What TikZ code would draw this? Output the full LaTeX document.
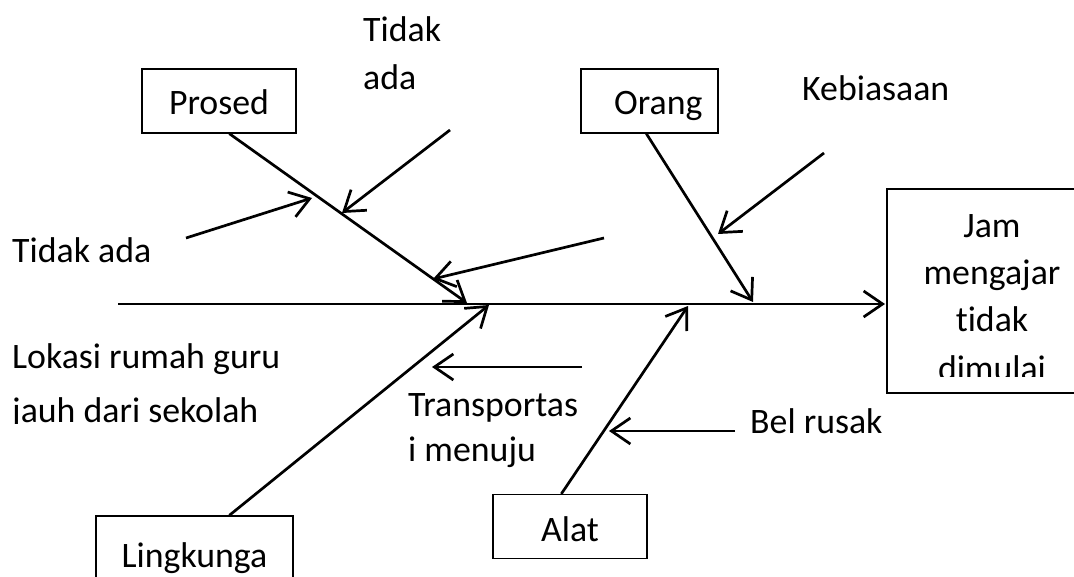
\documentclass[tikz,border=0pt]{standalone}
\usepackage{fontspec}
\setmainfont{Carlito}[Ligatures=NoCommon]
\usetikzlibrary{arrows.meta,calc}
\begin{document}
\begin{tikzpicture}[x=1pt,y=-1pt,
  bone/.style={line width=2.7pt,-{Straight Barb[length=19pt,width=26pt,line width=2.7pt]}},
  boxed/.style={draw,line width=1.3pt,inner sep=0pt},
  txt/.style={font=\fontsize{35.8}{47}\selectfont},
  lbl/.style={txt,anchor=base west,inner sep=0pt}]
\useasboundingbox (0,0) rectangle (1074,577);
% boxes
\node[boxed,minimum width=154pt,minimum height=64pt] (prosed) at (219,101) {};
\node[lbl,anchor=base] (prosedt) at (219,115) {Prosed};
\node[boxed,minimum width=137pt,minimum height=64pt] (orang) at (649.5,101) {};
\node[lbl] (orangt) at (614,115) {Orang};
\node[boxed,minimum width=154pt,minimum height=64pt] (alat) at (570,526.5) {};
\node[lbl,anchor=base] (alatt) at (570,541) {Alat};
\node[boxed,minimum width=197pt,minimum height=80pt] (ling) at (194.5,556) {};
\node[lbl,anchor=base] (lingt) at (194.5,567) {Lingkunga};
\node[boxed,minimum width=213pt,minimum height=204pt] (effect) at (993.5,291) {};
\begin{scope}
  \clip (887,189) rectangle (1100,377);
  \node[lbl,anchor=base] (e1) at (992,238) {Jam};
  \node[lbl,anchor=base] (e2) at (992,285) {mengajar};
  \node[lbl,anchor=base] (e3) at (992,332) {tidak};
  \node[lbl,anchor=base] (e4) at (992,381) {dimulai};
\end{scope}
% spine
\coordinate (tail) at (118,304);
\coordinate (head) at (885,304);
\draw[bone] (tail) -- (head);
% main bones
\coordinate (pe) at (467,303);
\coordinate (oe) at (753,302);
\coordinate (le) at (489,305);
\coordinate (ae) at (688,306);
\draw[bone] ($(prosed.south west)+(88,0)$) -- (pe);
\draw[bone] ($(orang.south west)+(66,0)$) -- (oe);
\draw[bone] ($(ling.north west)+(134,0)$) -- (le);
\draw[bone] ($(alat.north west)+(69,0)$) -- (ae);
% sub arrows
\coordinate (s1a) at (186,238); \coordinate (s1b) at (312,198);
\coordinate (s2a) at (450,130); \coordinate (s2b) at (342,213);
\coordinate (s3a) at (604,238); \coordinate (s3b) at (433,279);
\coordinate (s4a) at (824,153); \coordinate (s4b) at (718,234);
\coordinate (s5a) at (582,367); \coordinate (s5b) at (432,367);
\coordinate (s6a) at (735,431); \coordinate (s6b) at (609,431);
\draw[bone] (s1a) -- (s1b);
\draw[bone] (s2a) -- (s2b);
\draw[bone] (s3a) -- (s3b);
\draw[bone] (s4a) -- (s4b);
\draw[bone] (s5a) -- (s5b);
\draw[bone] (s6a) -- (s6b);
% labels
\node[lbl] (t1) at (363,42) {Tidak};
\node[lbl] (t2) at (363,90) {ada};
\node[lbl] (keb) at (802,101) {Kebiasaan};
\node[lbl] (tida) at (12,263) {Tidak ada};
\begin{scope}
  \clip (0,330) rectangle (400,423);
  \node[lbl] (lok1) at (12,368) {Lokasi rumah guru};
  \node[lbl] (lok2) at (12,422) {jauh dari sekolah};
\end{scope}
\node[lbl] (tr1) at (408,416) {Transportas};
\node[lbl] (tr2) at (408,461) {i menuju};
\node[lbl] (bel) at (750,433) {Bel rusak};
\end{tikzpicture}
\end{document}
